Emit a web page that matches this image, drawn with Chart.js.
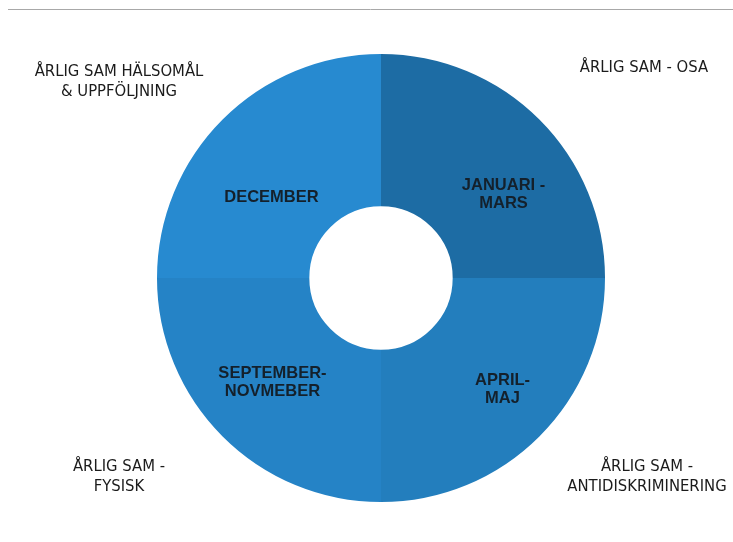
<!DOCTYPE html>
<html>
<head>
<meta charset="utf-8">
<script src="https://cdn.jsdelivr.net/npm/chart.js@4"></script>
<style>
  html, body { margin: 0; padding: 0; background: #fff; }
  #wrap { width: 733px; height: 542px; position: relative; }
</style>
</head>
<body>
<div id="wrap"><canvas id="wheel"></canvas></div>
<script>
// Årshjul - fyra lika stora perioder
const periods = [['JANUARI -', 'MARS'], ['APRIL-', 'MAJ'], ['SEPTEMBER-', 'NOVMEBER'], ['DECEMBER']];
const topics = [['ÅRLIG SAM - OSA'], ['ÅRLIG SAM -', 'ANTIDISKRIMINERING'], ['ÅRLIG SAM -', 'FYSISK'], ['ÅRLIG SAM HÄLSOMÅL', '& UPPFÖLJNING']];
const shares = [1, 1, 1, 1];
const colors = ['#1d6ca4', '#237ebd', '#2583c6', '#278ad0'];

/**
 * Periodtext inne i varje sektor
 */
const periodLabels = {
    id: 'periodLabels',
    afterDatasetsDraw(chart, args, opts) {
        const ctx = chart.ctx;
        const arcs = chart.getDatasetMeta(0).data;
        ctx.save();
        ctx.font = 'bold 16.5px "Liberation Sans", Arial, sans-serif';
        ctx.fillStyle = '#14202b';
        ctx.textAlign = 'center';
        ctx.textBaseline = 'middle';
        arcs.forEach((arc, i) => {
            const p = arc.getCenterPoint();
            const lines = periods[i];
            const off = opts.nudge[i];
            const y0 = p.y + off[1] - (lines.length - 1) * opts.lineHeight / 2;
            lines.forEach((t, j) => ctx.fillText(t, p.x + off[0], y0 + j * opts.lineHeight));
        });
        ctx.restore();
    }
};

/**
 * Ämnestext i hörnen + tunn linje överst
 */
const topicLabels = {
    id: 'topicLabels',
    afterDraw(chart, args, opts) {
        const ctx = chart.ctx;
        const w = chart.width;
        ctx.save();
        ctx.strokeStyle = '#a8a8a8';
        ctx.lineWidth = 1;
        ctx.beginPath();
        ctx.moveTo(8, 9.5);
        ctx.lineTo(w, 9.5);
        ctx.stroke();

        ctx.font = '16.5px "Liberation Sans Narrow", "DejaVu Sans Condensed", sans-serif';
        ctx.fillStyle = '#1b1b1b';
        ctx.textAlign = 'center';
        ctx.textBaseline = 'middle';
        topics.forEach((lines, i) => {
            const a = opts.anchors[i];
            lines.forEach((t, j) => ctx.fillText(t, a[0], a[1] + j * opts.lineHeight));
        });
        ctx.restore();
    }
};

new Chart(document.getElementById('wheel'), {
    type: 'doughnut',
    data: {
        labels: periods.map(p => p.join(' ')),
        datasets: [{
            data: shares,
            backgroundColor: colors,
            borderWidth: 0,
            hoverOffset: 0
        }]
    },
    options: {
        responsive: true,
        maintainAspectRatio: false,
        animation: false,
        cutout: '32%',
        layout: {
            padding: { top: 54, bottom: 40, left: 157, right: 128 }
        },
        plugins: {
            legend: { display: false },
            tooltip: { enabled: false },
            periodLabels: {
                lineHeight: 18,
                nudge: [[18, 21], [17, 7], [-4, 0], [-5, 24]]
            },
            topicLabels: {
                lineHeight: 20,
                anchors: [[644, 68], [647, 467], [119, 467], [119, 72]]
            }
        }
    },
    plugins: [periodLabels, topicLabels]
});
</script>
</body>
</html>
